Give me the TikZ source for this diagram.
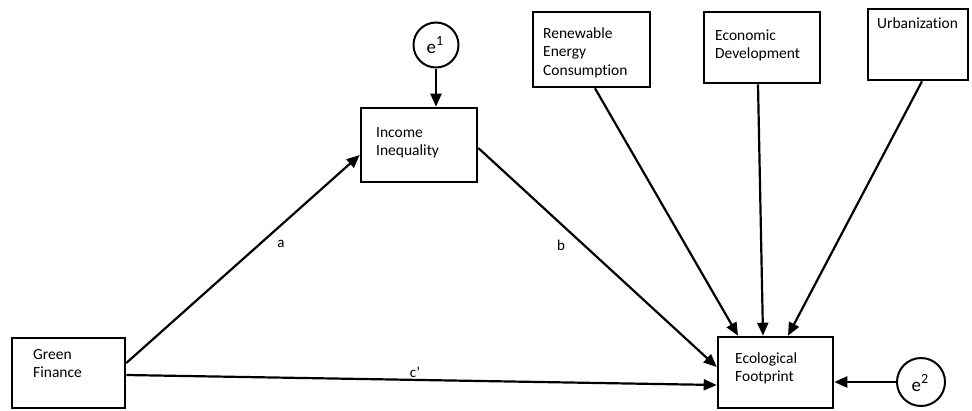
\documentclass[tikz,border=0pt]{standalone}
\usepackage{fontspec}
\setmainfont{Carlito}[Ligatures=CommonOff]
\usetikzlibrary{arrows.meta,calc}
\newcommand{\errterm}[1]{{\fontsize{19}{20}\selectfont e\raisebox{8pt}{\fontsize{14}{14}\selectfont #1}}}
\begin{document}
\begin{tikzpicture}[x=1pt,y=-1pt,
  box/.style={draw, line width=2.6pt, inner sep=0pt},
  circ/.style={draw, circle, line width=2pt, inner sep=0pt},
  txt/.style={anchor=base west, inner sep=0pt, align=left, text width=150pt, font=\fontsize{15.5}{18.5}\selectfont},
  path lbl/.style={inner sep=0pt, font=\fontsize{15}{18}\selectfont},
  arr/.style={line width=2.2pt, -{Triangle[length=13pt,width=11pt]}}]
\useasboundingbox (0,0) rectangle (972,410);
% boxes
\node[box, minimum width=113pt, minimum height=70pt] (gf) at (68.5,373) {};
\node[box, minimum width=116pt, minimum height=74pt] (ii) at (419,145) {};
\node[box, minimum width=117pt, minimum height=75pt] (re) at (591.5,49.5) {};
\node[box, minimum width=116pt, minimum height=71pt] (ed) at (762,47.5) {};
\node[box, minimum width=100pt, minimum height=71pt] (ur) at (918,44.5) {};
\node[box, minimum width=115pt, minimum height=71pt] (ef) at (775.5,372.5) {};
% texts
\node[txt] (gft) at (33,359) {Green\\Finance};
\node[txt] (iit) at (376,137) {Income\\Inequality};
\node[txt] (ret) at (543,38) {Renewable\\Energy\\Consumption};
\node[txt] (edt) at (715,40) {Economic\\Development};
\node[txt] (urt) at (877,28) {Urbanization};
\node[txt] (eft) at (735,363) {Ecological\\Footprint};
% error terms
\node[circ, minimum size=45pt] (e1) at (436,45) {};
\node[circ, minimum size=48pt] (e2) at (921,382) {};
\node[anchor=base, inner sep=0pt] (e1t) at (435,53) {\errterm{1}};
\node[anchor=base, inner sep=0pt] (e2t) at (920,391) {\errterm{2}};
% connectors
\draw[arr] ([yshift=10pt]gf.east) -- ([yshift=-10pt]ii.west);
\draw[arr] ([yshift=-3pt]ii.east) -- ([yshift=5.5pt]ef.west);
\draw[arr] ([yshift=-2pt]gf.east) -- ([yshift=-12.5pt]ef.west);
\draw[arr] ([xshift=3.5pt]re.south) -- ([xshift=-37.5pt]ef.north);
\draw[arr] ([xshift=-4pt]ed.south) -- ([xshift=-12.5pt]ef.north);
\draw[arr] ([xshift=4pt]ur.south) -- ([xshift=12.5pt]ef.north);
\draw[arr] (e1.south) -- (e1.south |- ii.north);
\draw[arr] (e2.west) -- (e2.west -| ef.east);
% path labels
\node[path lbl] (la) at (281,244) {a};
\node[path lbl] (lb) at (561,245) {b};
\node[path lbl] (lc) at (415,372) {c\char"27};
\end{tikzpicture}
\end{document}
